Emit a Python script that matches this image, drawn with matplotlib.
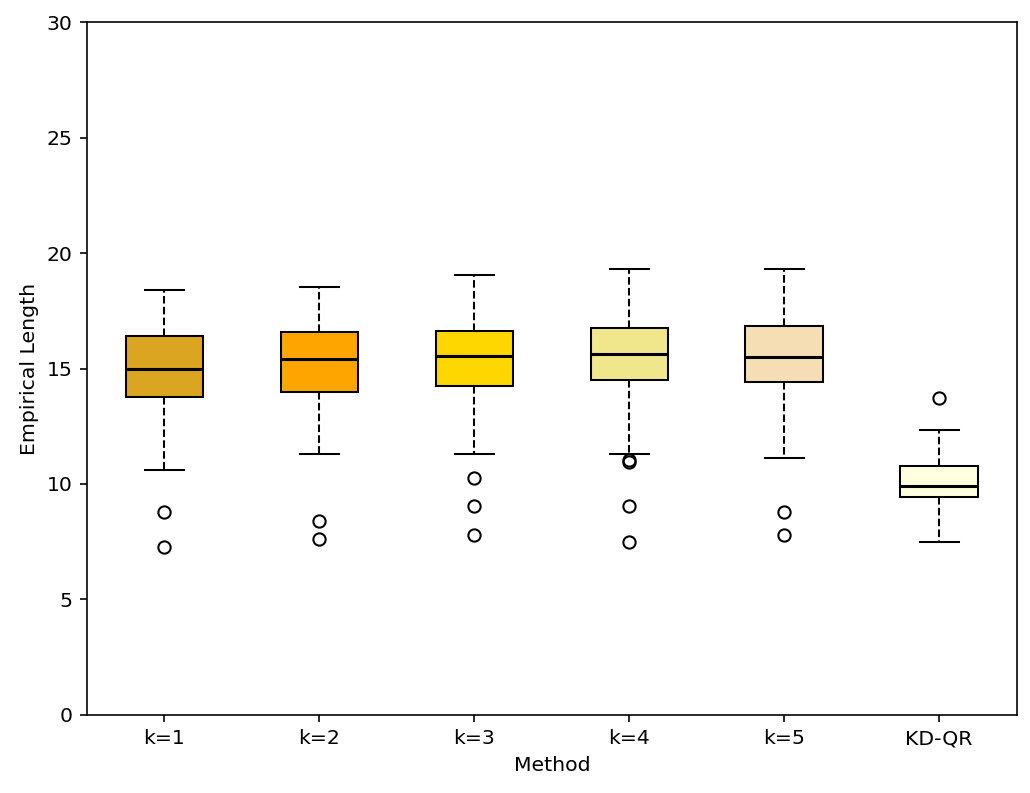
import matplotlib
matplotlib.use("Agg")
import matplotlib.pyplot as plt

methods = ["k=1", "k=2", "k=3", "k=4", "k=5", "KD-QR"]
whislo = [10.61, 11.30, 11.30, 11.30, 11.13, 7.49]
q1 = [13.77, 13.98, 14.24, 14.50, 14.42, 9.44]
med = [14.98, 15.41, 15.54, 15.63, 15.50, 9.91]
q3 = [16.41, 16.58, 16.62, 16.75, 16.84, 10.78]
whishi = [18.40, 18.53, 19.05, 19.31, 19.31, 12.34]
fliers = [
    [8.79, 7.27],
    [8.40, 7.62],
    [10.26, 9.05, 7.79],
    [11.04, 10.95, 9.05, 7.49],
    [8.79, 7.79],
    [13.72],
]
colors = ["goldenrod", "orange", "gold", "khaki", "wheat", "lightyellow"]

stats = []
for i, name in enumerate(methods):
    stats.append({"label": name, "whislo": whislo[i], "q1": q1[i], "med": med[i],
                  "q3": q3[i], "whishi": whishi[i], "fliers": fliers[i]})

dpi = 147.14
fig = plt.figure(figsize=(1030 / dpi, 793 / dpi), dpi=dpi)
ax = fig.add_axes([0.0845, 0.0984, 0.9025, 0.8738])

bp = ax.bxp(stats, patch_artist=True, widths=0.5,
            medianprops=dict(color="black", linewidth=1.5),
            whiskerprops=dict(linestyle="--", color="black"),
            capprops=dict(color="black"),
            boxprops=dict(edgecolor="black"),
            flierprops=dict(marker="o", markerfacecolor="none", markeredgecolor="black"))
for patch, c in zip(bp["boxes"], colors):
    patch.set_facecolor(c)

ax.set_ylim(0, 30)
ax.set_xlabel("Method")
ax.set_ylabel("Empirical Length")

fig.savefig("out.png", dpi=dpi)
